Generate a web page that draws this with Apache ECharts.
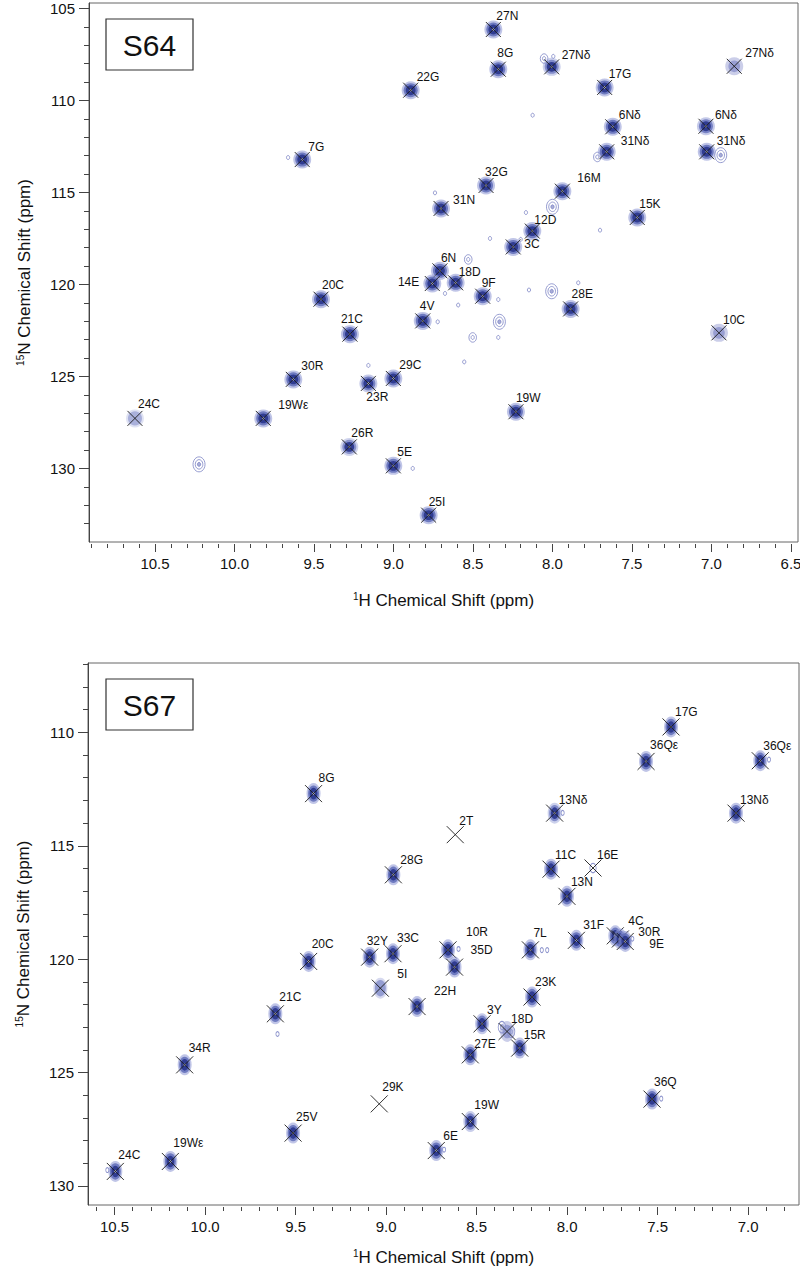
<!DOCTYPE html>
<html><head><meta charset="utf-8">
<script src="https://cdn.jsdelivr.net/npm/echarts@6/dist/echarts.min.js"></script>
<style>html,body{margin:0;padding:0;background:#fff}#c{width:800px;height:1271px}</style>
</head><body><div id="c"></div>
<script>
// ---------------- DATA: S64 panel ----------------
const labels64 = ['27N','8G','27Nδ','17G','27Nδ','22G','6Nδ','6Nδ','31Nδ','31Nδ','7G','32G','16M','31N','15K','12D','3C','6N','14E','18D','9F','28E','4V','20C','21C','10C','30R','29C','23R','24C','19Wε','19W','26R','5E','25I'];
const h64 = [8.372,8.341,8.005,7.672,6.857,8.892,7.621,7.035,7.659,7.030,9.574,8.418,7.938,8.701,7.467,8.127,8.247,8.708,8.756,8.609,8.439,7.886,8.816,9.456,9.274,6.953,9.630,9.001,9.158,10.626,9.819,8.230,9.278,9.001,8.779];
const n64 = [106.14,108.30,108.17,109.29,108.14,109.44,111.43,111.40,112.79,112.79,113.21,114.62,114.93,115.87,116.36,117.10,117.96,119.26,119.95,119.91,120.64,121.33,121.98,120.80,122.70,122.63,125.16,125.11,125.38,127.28,127.28,126.92,128.83,129.86,132.54];
const int64 = [1,1,0.8,1,0.35,1,1,0.9,1,1,1,1,1,1,1,1,1,1,1,1,1,1,1,1,1,0.4,1,1,0.9,0.5,1,1,0.75,1,1];
// unassigned contour features (H, N, number of contour levels)
const uH64 = [10.223,9.663,8.053,7.995,8.125,7.718,6.942,8.000,8.167,7.701,8.393,8.200,8.530,8.739,8.676,8.148,8.005,7.838,8.341,8.593,8.334,8.341,8.502,8.555,8.722,8.879,9.158];
const uN64 = [129.78,113.10,107.72,107.60,110.80,113.07,112.97,115.78,116.09,117.05,117.50,117.55,118.64,115.02,120.49,120.30,120.37,119.91,120.82,121.12,122.03,122.88,122.88,124.21,122.03,130.00,124.40];
const uL64 = [3,1,2,1,1,2,3,3,1,1,1,1,2,1,1,1,3,1,1,1,3,1,2,1,1,1,1];
const hTicks64 = [10.5,10.0,9.5,9.0,8.5,8.0,7.5,7.0,6.5];
const nTicks64 = [105,110,115,120,125,130];

// ---------------- DATA: S67 panel ----------------
const labels67 = ['17G','36Qε','36Qε','8G','13Nδ','13Nδ','2T','28G','11C','16E','13N','31F','4C','30R','9E','7L','10R','35D','32Y','33C','20C','5I','22H','23K','21C','3Y','18D','15R','27E','34R','36Q','29K','19W','25V','6E','19Wε','24C'];
const h67 = [7.426,7.564,6.933,9.401,8.069,7.067,8.618,8.960,8.089,7.857,8.001,7.949,7.734,7.706,7.679,8.203,8.658,8.622,9.091,8.962,9.428,9.032,8.829,8.194,9.612,8.470,8.332,8.262,8.535,10.113,7.531,9.038,8.535,9.514,8.723,10.192,10.496];
const n67 = [109.76,111.28,111.25,112.70,113.56,113.56,114.51,116.28,116.03,115.98,117.23,119.17,118.97,119.11,119.22,119.59,119.59,120.35,119.91,119.76,120.10,121.28,122.09,121.67,122.41,122.85,123.19,123.92,124.22,124.66,126.17,126.38,127.16,127.67,128.44,128.92,129.36];
const int67 = [1,1,1,1,0.8,1,0,1,1,0.15,1,1,1,1,1,1,1,1,1,1,1,0.65,1,1,1,0.9,0.3,1,1,1,1,0,0.85,1,1,1,1];
const uH67 = [6.885,8.025,8.600,8.140,8.110,7.640,8.360,8.310,8.680,7.480,9.600,10.540];
const uN67 = [111.20,113.55,119.55,119.60,119.60,119.10,123.00,123.20,128.40,126.15,123.30,129.30];
const uL67 = [1,1,1,1,1,1,2,2,1,1,1,1];
const hTicks67 = [10.5,10.0,9.5,9.0,8.5,8.0,7.5,7.0];
const nTicks67 = [110,115,120,125,130];

// ---------------- LAYOUT (label nudges in px, not data) ----------------
const nudge64 = [[3,-13],[-1,-16],[10,-12],[4,-13],[11,-13],[6,-13],[6,-12],[9,-11],[14,-11],[10,-11],[6,-13],[-1,-13],[15,-13],[12,-8],[2,-13],[2,-11],[11,-3],[1,-13],[-13,-2,'right'],[3,-11],[-1,-13],[1,-15],[-3,-15],[1,-14],[-9,-15],[4,-13],[8,-13],[6,-13],[-2,14],[3,-14],[15,-13],[0,-14],[2,-14],[4,-14],[0,-13]];
const nudge67 = [[4,-15],[4,-16],[3,-15],[5,-16],[4,-13],[4,-13],[4,-14],[7,-15],[4,-14],[4,-13],[4,-14],[7,-15],[13,-15],[18,-7],[24,3],[3,-17],[18,-18],[16,-17],[-3,-16],[4,-16],[3,-17],[17,-14],[17,-16],[3,-15],[4,-17],[5,-14],[4,-13],[4,-13],[4,-11],[4,-17],[2,-17],[3,-17],[4,-17],[3,-16],[7,-15],[3,-18],[3,-16]];

const FONT = "'Liberation Sans', Arial, Helvetica, sans-serif";

function range(a, b, step) { const r = []; for (let v = a; v <= b + 1e-9; v += step) r.push(+v.toFixed(2)); return r; }

function blob(p, r, fill, sy) {
  return { type: 'circle', x: p[0], y: p[1], scaleY: sy, shape: { cx: 0, cy: 0, r: r }, style: { fill: fill } };
}

function peakSeries(gi, H, N, I, labels, nudge, opt) {
  return {
    type: 'custom', xAxisIndex: gi * 2, yAxisIndex: gi * 2, z: 5, clip: false,
    data: H.map((h, i) => [h, N[i], I[i]]),
    renderItem(params, api) {
      const i = params.dataIndex;
      const p = api.coord([api.value(0), api.value(1)]);
      const k = api.value(2);
      const sy = opt.sy, R = opt.r;
      const kids = [];
      if (k > 0) {
        if (k < 0.25) {
          kids.push({ type: 'circle', x: p[0], y: p[1], scaleY: sy, shape: { cx: 0, cy: 0, r: R * 0.45 }, style: { fill: 'none', stroke: 'rgba(120,128,195,0.9)', lineWidth: 0.8 } });
        } else if (k < 0.45) {
          kids.push(blob(p, R, 'rgba(160,166,215,0.55)', sy));
          kids.push(blob(p, R * 0.65, 'rgba(130,138,200,0.7)', sy));
        } else {
          kids.push(blob(p, R, 'rgba(140,150,212,' + (0.55 * k).toFixed(2) + ')', sy));
          kids.push(blob(p, R * 0.78, 'rgba(95,108,185,' + (0.85 * k).toFixed(2) + ')', sy));
          if (k > 0.7) {
            kids.push(blob(p, R * 0.55, 'rgb(48,60,145)', sy));
            kids.push(blob(p, 1.1, '#ffffff', 1));
          }
        }
      }
      const c = opt.cross;
      kids.push({ type: 'line', shape: { x1: p[0] - c, y1: p[1] - c, x2: p[0] + c, y2: p[1] + c }, style: { stroke: '#1b1b1b', lineWidth: 0.9 } });
      kids.push({ type: 'line', shape: { x1: p[0] - c, y1: p[1] + c, x2: p[0] + c, y2: p[1] - c }, style: { stroke: '#1b1b1b', lineWidth: 0.9 } });
      const nd = nudge[i];
      kids.push({ type: 'text', x: p[0] + nd[0], y: p[1] + nd[1], z2: 10,
        style: { text: labels[i], font: '12px ' + FONT, fill: '#111', align: nd[2] || 'left', verticalAlign: 'middle' } });
      return { type: 'group', children: kids };
    }
  };
}

function contourSeries(gi, H, N, L, opt) {
  return {
    type: 'custom', xAxisIndex: gi * 2, yAxisIndex: gi * 2, z: 3,
    data: H.map((h, i) => [h, N[i], L[i]]),
    renderItem(params, api) {
      const p = api.coord([api.value(0), api.value(1)]);
      const L = api.value(2);
      const kids = [];
      for (let j = 0; j < L; j++) {
        kids.push({ type: 'circle', x: p[0], y: p[1], scaleY: opt.sy, shape: { cx: 0, cy: 0, r: 1.6 + j * 2.2 },
          style: { fill: j === 0 && L > 2 ? 'rgba(110,118,190,0.6)' : 'none', stroke: 'rgba(120,128,195,0.85)', lineWidth: 0.8 } });
      }
      return { type: 'group', children: kids };
    }
  };
}

function axesFor(gi, xr, yr, hTicks, nTicks, xMinor, yMinor, gaps) {
  const common = { gridIndex: gi, type: 'value', splitLine: { show: false } };
  const x = [
    Object.assign({}, common, { inverse: true, min: xr[0], max: xr[1], position: 'bottom', offset: 2,
      axisLine: { show: false },
      axisTick: { show: true, length: 8, customValues: hTicks, lineStyle: { color: '#444' } },
      axisLabel: { customValues: hTicks, formatter: v => v.toFixed(1), margin: 12, fontSize: 15, color: '#111', fontFamily: FONT },
      name: '{sup|1}H Chemical Shift (ppm)', nameLocation: 'middle', nameGap: gaps[0],
      nameTextStyle: { fontSize: 17, color: '#111', fontFamily: FONT, rich: { sup: { fontSize: 10, fontFamily: FONT, color: '#111', padding: [0, 0, 8, 0] } } } }),
    Object.assign({}, common, { inverse: true, min: xr[0], max: xr[1], position: 'bottom', offset: 2,
      axisLine: { show: false },
      axisTick: { show: true, length: 4, customValues: xMinor, lineStyle: { color: '#444' } },
      axisLabel: { show: false } })
  ];
  const y = [
    Object.assign({}, common, { inverse: true, min: yr[0], max: yr[1], position: 'left',
      axisLine: { show: true, lineStyle: { color: '#444' } },
      axisTick: { show: true, length: 10, customValues: nTicks, lineStyle: { color: '#444' } },
      axisLabel: { customValues: nTicks, margin: 14, fontSize: 15, color: '#111', fontFamily: FONT },
      name: '{sup|15}N Chemical Shift (ppm)', nameLocation: 'middle', nameGap: gaps[1],
      nameTextStyle: { fontSize: 17, color: '#111', fontFamily: FONT, rich: { sup: { fontSize: 10, fontFamily: FONT, color: '#111', padding: [0, 0, 8, 0] } } } }),
    Object.assign({}, common, { inverse: true, min: yr[0], max: yr[1], position: 'left',
      axisLine: { show: false },
      axisTick: { show: true, length: 5, customValues: yMinor, lineStyle: { color: '#444' } },
      axisLabel: { show: false } })
  ];
  return { x, y };
}

const a0 = axesFor(0, [6.456, 10.915], [104.7, 134.0], hTicks64, nTicks64, range(6.5, 10.9, 0.1), range(105, 133, 1), [47, 56]);
const a1 = axesFor(1, [6.719, 10.647], [106.94, 130.84], hTicks67, nTicks67, range(6.8, 10.6, 0.1), range(107, 130, 1), [41, 56]);

function tagBox(x, y, text) {
  return { type: 'group', x: x, y: y, children: [
    { type: 'rect', shape: { x: 0, y: 0, width: 87, height: 51 }, style: { fill: '#fff', stroke: '#333', lineWidth: 1.2 } },
    { type: 'text', x: 43.5, y: 26, style: { text: text, font: '30px ' + FONT, fill: '#111', align: 'center', verticalAlign: 'middle' } }
  ] };
}

const chart = echarts.init(document.getElementById('c'), null, { renderer: 'svg' });
chart.setOption({
  backgroundColor: '#fff',
  animation: false,
  grid: [
    { left: 89, top: 3, width: 709, height: 539, show: true, borderColor: '#666', borderWidth: 1, backgroundColor: 'transparent', containLabel: false, outerBoundsMode: 'none' },
    { left: 88, top: 663, width: 711, height: 542, show: true, borderColor: '#666', borderWidth: 1, backgroundColor: 'transparent', containLabel: false, outerBoundsMode: 'none' }
  ],
  xAxis: a0.x.concat(a1.x),
  yAxis: a0.y.concat(a1.y),
  series: [
    contourSeries(0, uH64, uN64, uL64, { sy: 1.25 }),
    peakSeries(0, h64, n64, int64, labels64, nudge64, { r: 9, sy: 1, cross: 7.5 }),
    contourSeries(1, uH67, uN67, uL67, { sy: 1.5 }),
    peakSeries(1, h67, n67, int67, labels67, nudge67, { r: 7, sy: 1.5, cross: 8.5 })
  ],
  graphic: [tagBox(106, 19, 'S64'), tagBox(106, 679, 'S67')]
});
</script></body></html>
